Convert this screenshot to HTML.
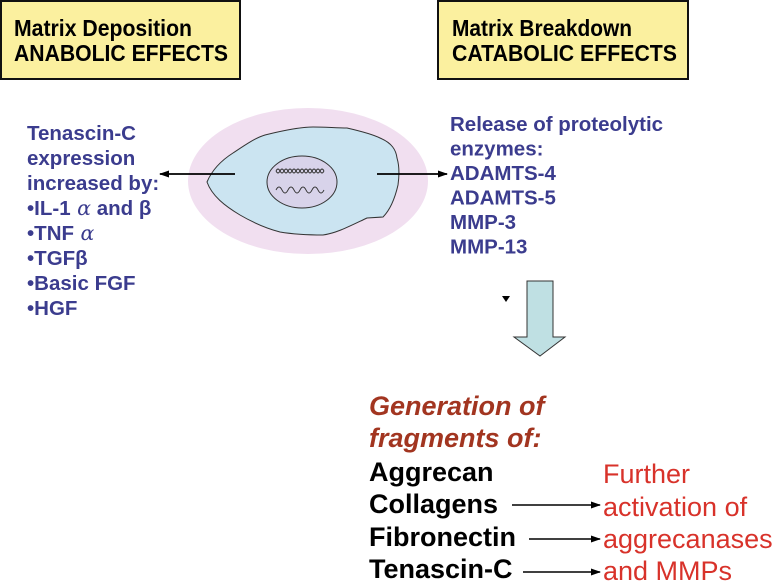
<!DOCTYPE html>
<html><head><meta charset="utf-8"><style>
html,body{margin:0;padding:0;background:#fff;width:774px;height:584px;overflow:hidden}
svg{display:block}
text{font-family:"Liberation Sans",Arial,sans-serif}
</style></head><body>
<svg width="774" height="584" viewBox="0 0 774 584" xmlns="http://www.w3.org/2000/svg">
<defs>
<marker id="ah" markerWidth="10" markerHeight="10" refX="9" refY="5" orient="auto" markerUnits="userSpaceOnUse">
<path d="M0,1.5 L10,5 L0,8.5 Z" fill="#000"/></marker>
</defs>
<rect x="1" y="1" width="239" height="78" fill="#fbf09f" stroke="#111" stroke-width="2"/>
<text x="14" y="36" font-size="23" font-weight="bold" fill="#000" textLength="178" lengthAdjust="spacingAndGlyphs">Matrix Deposition</text>
<text x="14" y="61" font-size="23" font-weight="bold" fill="#000" textLength="214" lengthAdjust="spacingAndGlyphs">ANABOLIC EFFECTS</text>
<rect x="438" y="1" width="250" height="78" fill="#fbf09f" stroke="#111" stroke-width="2"/>
<text x="452" y="36" font-size="23" font-weight="bold" fill="#000" textLength="180" lengthAdjust="spacingAndGlyphs">Matrix Breakdown</text>
<text x="452" y="61" font-size="23" font-weight="bold" fill="#000" textLength="225" lengthAdjust="spacingAndGlyphs">CATABOLIC EFFECTS</text>

<ellipse cx="308" cy="181" rx="120" ry="73" fill="#f1dff0"/>
<path d="M207,182 C212,170 222,160 233,153 C245,145 255,138 265,135 C285,130 300,127 313,127 C325,127 337,128 347,128 C360,131 372,134 380,138 C392,143 396,150 397,158 C400,168 399,178 398,185 C395,198 390,210 383,217 L367,218 C350,226 337,233 323,235 C305,235 292,234 280,232 C265,228 252,222 240,215 C225,206 212,196 207,182 Z" fill="#cbe4f1" stroke="#333" stroke-width="1"/>
<ellipse cx="302" cy="182" rx="35" ry="26" fill="#d8d3ea" stroke="#333" stroke-width="1"/>
<path d="M276,171 q2,-4 4,0 t4,0 t4,0 t4,0 t4,0 t4,0 t4,0 t4,0 t4,0 t4,0 t4,0 t4,0" fill="none" stroke="#333" stroke-width="0.9"/>
<path d="M276,171 q2,4 4,0 t4,0 t4,0 t4,0 t4,0 t4,0 t4,0 t4,0 t4,0 t4,0 t4,0 t4,0" fill="none" stroke="#333" stroke-width="0.9"/>
<path d="M276,190 q3,-6 6,0 t6,0 t6,0 t6,0 t6,0 t6,0 t6,0 t6,0" fill="none" stroke="#333" stroke-width="0.9"/>

<line x1="235" y1="174" x2="160" y2="174" stroke="#000" stroke-width="1.8" marker-end="url(#ah)"/>
<line x1="377" y1="174" x2="447" y2="174" stroke="#000" stroke-width="1.8" marker-end="url(#ah)"/>

<g font-size="20.5" font-weight="bold" fill="#3b3c8e">
<text x="27" y="140">Tenascin-C</text>
<text x="27" y="165">expression</text>
<text x="27" y="190">increased by:</text>
<text x="27" y="215">•IL-1<tspan font-style="italic" font-weight="normal" font-family="DejaVu Serif, serif"> α</tspan>  and β</text>
<text x="27" y="240">•TNF<tspan font-style="italic" font-weight="normal" font-family="DejaVu Serif, serif"> α</tspan></text>
<text x="27" y="265">•TGFβ</text>
<text x="27" y="290">•Basic FGF</text>
<text x="27" y="315">•HGF</text>
</g>
<g font-size="20.5" font-weight="bold" fill="#3b3c8e">
<text x="450" y="131">Release of proteolytic</text>
<text x="450" y="155.5">enzymes:</text>
<text x="450" y="180">ADAMTS-4</text>
<text x="450" y="204.5">ADAMTS-5</text>
<text x="450" y="229">MMP-3</text>
<text x="450" y="253.5">MMP-13</text>
</g>

<path d="M502,296 L510,296 L506,302 Z" fill="#000"/>
<path d="M527,281 L553,281 L553,337 L565,337 L540,356 L514,337 L527,337 Z" fill="#bfe0e3" stroke="#333" stroke-width="1"/>

<g font-size="27" font-weight="bold" font-style="italic" fill="#a23520">
<text x="369" y="415">Generation of</text>
<text x="369" y="447">fragments of:</text>
</g>
<g font-size="27" font-weight="bold" fill="#000">
<text x="369" y="481">Aggrecan</text>
<text x="369" y="513">Collagens</text>
<text x="369" y="546">Fibronectin</text>
<text x="369" y="578">Tenascin-C</text>
</g>
<g font-size="27" fill="#d8322a">
<text x="603" y="483">Further</text>
<text x="603" y="516">activation of</text>
<text x="603" y="548">aggrecanases</text>
<text x="603" y="580">and MMPs</text>
</g>
<line x1="512" y1="505" x2="600" y2="505" stroke="#000" stroke-width="1.5" marker-end="url(#ah)"/>
<line x1="529" y1="539" x2="600" y2="539" stroke="#000" stroke-width="1.5" marker-end="url(#ah)"/>
<line x1="523" y1="572" x2="600" y2="572" stroke="#000" stroke-width="1.5" marker-end="url(#ah)"/>
</svg>
</body></html>
